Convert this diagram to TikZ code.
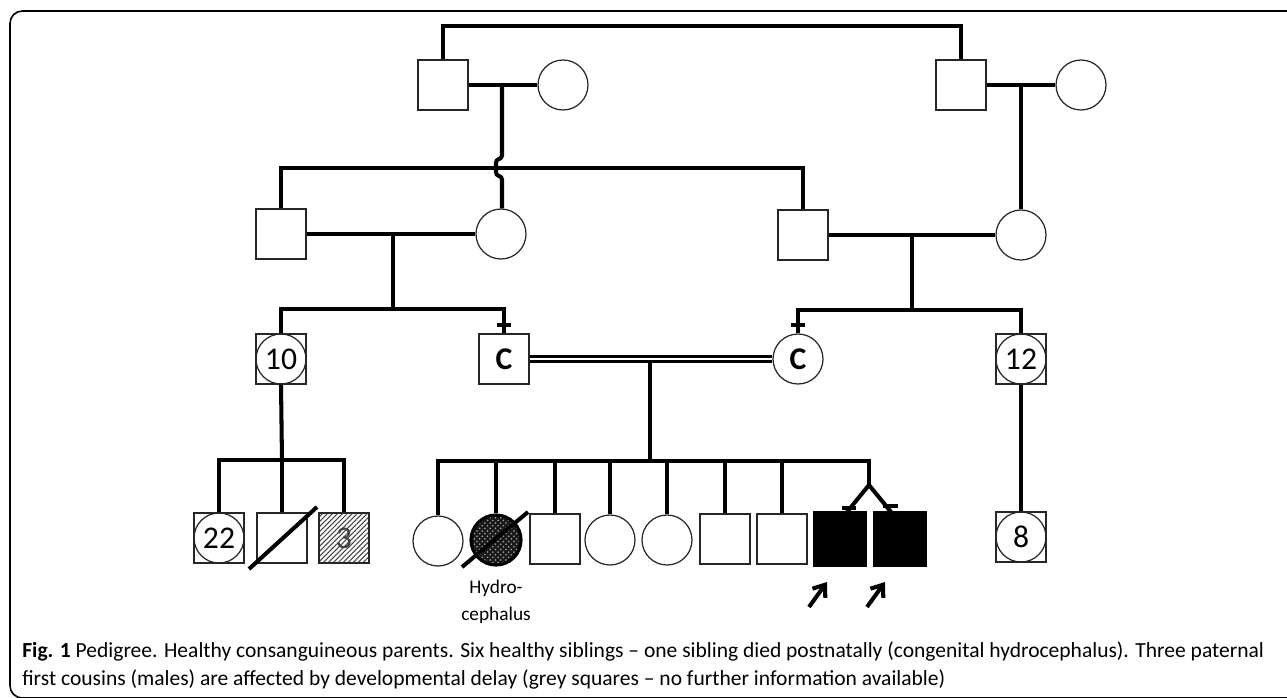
\documentclass[tikz,border=0pt]{standalone}
\usepackage{fontspec}
\setmainfont{Carlito}
\usetikzlibrary{positioning,calc,patterns,patterns.meta,arrows.meta}

\begin{document}
\begin{tikzpicture}[x=0.02cm,y=-0.02cm,
  ln/.style={line width=2.3pt},
  male/.style={rectangle,draw=black!85,line width=0.7pt,minimum size=1cm,inner sep=0pt,font=\fontsize{18}{18}\selectfont},
  female/.style={circle,draw=black!85,line width=0.7pt,minimum size=1cm,inner sep=0pt,font=\fontsize{18}{18}\selectfont},
  carrier/.style={font=\fontsize{18}{18}\selectfont\bfseries},
  affected/.style={male,fill=black,draw=black},
  tick/.style={line width=2pt}]
  \useasboundingbox (0,0) rectangle (1287,697);
  % frame
  \draw[line width=0.9pt,rounded corners=7] (1300,11) -- (10,11) -- (10,698) -- (1300,698);

  % generation I
  \node[male] (gf1) at (443,85) {};
  \node[female] (gm1) at (563,85) {};
  \node[male] (gf2) at (961,85) {};
  \node[female] (gm2) at (1081,85) {};
  \draw[ln] (gf1.north) -- (443,26) -| (gf2.north);
  \draw[ln] (gf1.east) -- (gm1.west);
  \draw[ln] (gf2.east) -- (gm2.west);

  % generation II
  \node[male] (f1) at (281,234) {};
  \node[female] (m1) at (501,234) {};
  \node[male] (f2) at (803,235) {};
  \node[female] (m2) at (1021,235) {};
  \draw[ln] (f1.north) |- (803,168) -- (f2.north);
  \draw[ln,rounded corners=1.5] (502,85) -- (502,158) -- (496,160) -- (496,175) -- (502,177) -- (m1.north -| 502,0);
  \draw[ln] (1021,85) -- (m2.north);
  \draw[ln] (f1.east) -- (m1.west);
  \draw[ln] (f2.east) -- (m2.west);

  % generation III
  \node[male] (u10) at (281,359) {};
  \node[female] (n10) at (u10) {10};
  \node[male,carrier] (cf) at (504,359) {C};
  \node[female,carrier] (cm) at (798,359) {C};
  \node[male] (u12) at (1021,359) {};
  \node[female] (n12) at (u12) {12};
  \draw[ln] (393,234) -- (393,309);
  \draw[ln] (u10.north) |- (504,309) -- (cf.north);
  \draw[ln] (912,235) -- (912,310);
  \draw[ln] (cm.north) |- (1021,310) -- (u12.north);
  \draw[tick] (497,325) -- (511,325);
  \draw[tick] (791,325) -- (805,325);
  \draw[line width=1.6pt] (cf.east) ++(0,-2.5) -- ($(cm.west)+(0,-2.5)$);
  \draw[line width=1.6pt] (cf.east) ++(0,2.5) -- ($(cm.west)+(0,2.5)$);

  % generation IV, left
  \node[male] (u22) at (219,538) {};
  \node[female] (n22) at (u22) {22};
  \node[male] (d1) at (282,538) {};
  \node[male,pattern={Lines[angle=45,distance=2pt,line width=0.6pt]},pattern color=black!75,text=black!75] (g3) at (344,538) {3};
  \draw[ln] (u10.south) -- (282,460);
  \draw[ln] (u22.north) |- (344,460) -- (g3.north);
  \draw[ln] (282,460) -- (d1.north);
  \draw[ln] (d1.center) ++(-33,31) -- ++(68,-62);

  % generation IV, right
  \node[female] (s1) at (438,541) {};
  \node[female,line width=1.8pt,draw=black,preaction={fill=black!90},pattern=crosshatch dots,pattern color=white!65!black] (s2) at (496,540) {};
  \node[male] (s3) at (555,539) {};
  \node[female] (s4) at (610,540) {};
  \node[female] (s5) at (667,540) {};
  \node[male] (s6) at (725,539) {};
  \node[male] (s7) at (782,539) {};
  \node[affected,minimum width=1.04cm,minimum height=1.08cm] (t1) at (840,539) {};
  \node[affected,minimum width=1.04cm,minimum height=1.08cm] (t2) at (900,539) {};
  \node[below=4pt of s2,align=center,font=\fontsize{11}{15.5}\selectfont] (hc) {Hydro-\\cephalus};
  \draw[ln] (650,362) -- (650,461);
  \draw[ln] (s1.north) |- (869,461) -- (869,485);
  \foreach \s in {s2,s3,s4,s5,s6,s7}
    \draw[ln] (\s.north) -- (\s.north |- 0,461);
  \draw[ln] (s2.center) ++(-34,27) -- ++(66,-55);
  \coordinate (tw) at (869,485);
  \draw[ln] (tw) -- (847,512);
  \draw[ln] (tw) -- (891,512);
  \draw[tick] (842,508) -- (856,508);
  \draw[tick] (883,506) -- (898,506);
  \node[male] (u8) at (1021,537) {};
  \node[female] (n8) at (u8) {8};
  \draw[ln] (u12.south) -- (u8.north);

  % probands
  \coordinate (p1) at (809,607);
  \coordinate (p2) at (867,607);
  \draw[ln,-{Straight Barb[length=6pt,width=9pt]}] (p1) -- ++(18,-25);
  \draw[ln,-{Straight Barb[length=6pt,width=9pt]}] (p2) -- ++(18,-25);

  % caption
  \node[anchor=base west,inner sep=0pt,font=\fontsize{12.25}{14}\selectfont] (cap1) at (22,657)
    {\textbf{Fig. 1} Pedigree. Healthy consanguineous parents. Six healthy siblings – one sibling died postnatally (congenital hydrocephalus). Three paternal};
  \node[anchor=base west,inner sep=0pt,font=\fontsize{12.25}{14}\selectfont] (cap2) at (22,685)
    {first cousins (males) are affected by developmental delay (grey squares – no further information available)};
\end{tikzpicture}
\end{document}
